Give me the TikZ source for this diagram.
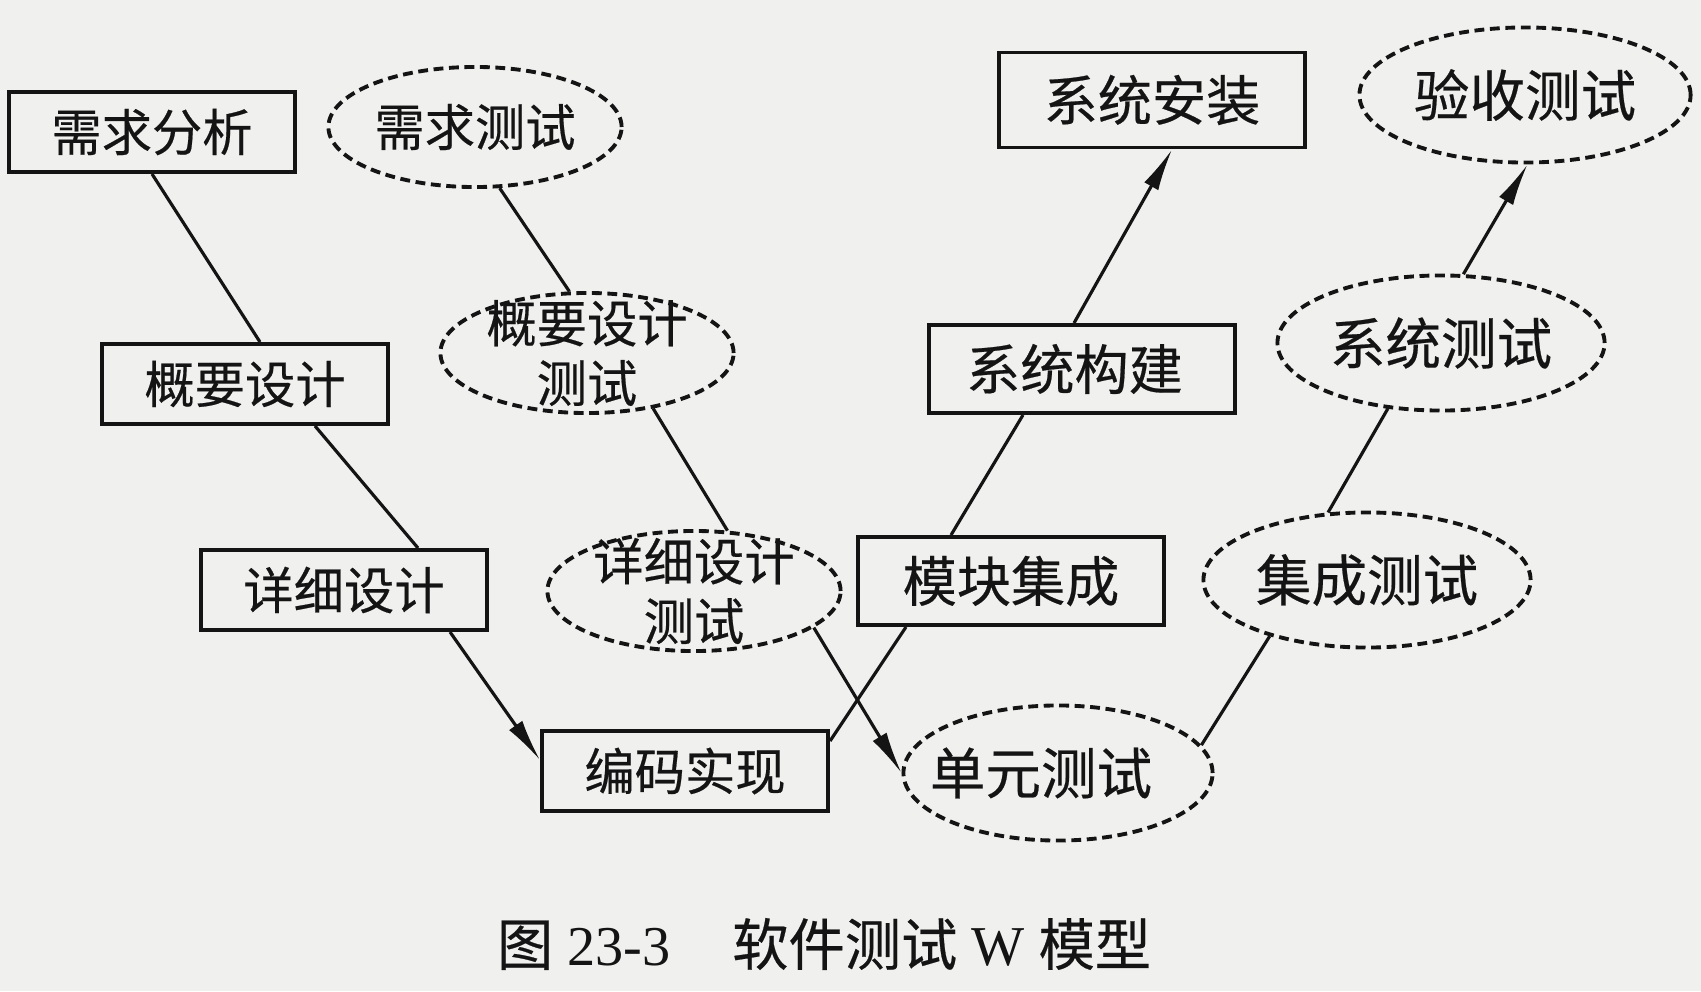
\documentclass[tikz,border=0pt]{standalone}
\usepackage{fontspec}
\setmainfont{Liberation Serif}
\newfontfamily\cjk[FakeBold=0.4]{Noto Sans CJK SC}
\usetikzlibrary{shapes.geometric, arrows.meta, calc}
\definecolor{paper}{RGB}{240,240,238}
\definecolor{ink}{RGB}{20,20,20}
\tikzset{
  devbox/.style={rectangle, draw=ink, line width=1.1pt, text=ink, inner sep=0pt,
    minimum width=2.86cm, minimum height=0.8cm, font=\cjk\fontsize{14.3}{17}\selectfont},
  widebox/.style={devbox, minimum width=3.05cm, minimum height=0.88cm,
    font=\cjk\fontsize{15.4}{18}\selectfont},
  testell/.style={ellipse, draw=ink, line width=1.1pt, dash pattern=on 2.8pt off 1.6pt,
    text=ink, inner sep=0pt, minimum width=2.93cm, minimum height=1.2cm,
    font=\cjk\fontsize{14.3}{17}\selectfont},
  wideell/.style={testell, minimum width=3.27cm, minimum height=1.35cm,
    font=\cjk\fontsize{15.8}{18}\selectfont},
  lbltext/.style={font=\cjk\fontsize{14.3}{17}\selectfont, text=ink, align=center},
  twoline/.style={label={[lbltext]center:#1}},
  link/.style={line width=0.9pt, draw=ink},
  arrow/.style={link, -{Latex[length=12pt, width=4.6pt]}},
}
\begin{document}
\begin{tikzpicture}[x=0.01cm, y=-0.01cm]
  \fill[paper] (0,0) rectangle (1701,991);
  \useasboundingbox (0,0) rectangle (1701,991);
  % development side
  \node[devbox] (xqfx) at (152,132) {需求分析};
  \node[devbox] (gysj) at (245,384) {概要设计};
  \node[devbox] (xxsj) at (344,590) {详细设计};
  \node[devbox] (bmsx) at (685,771) {编码实现};
  \node[widebox] (mkjc) at (1011,581) {模块集成};
  \node[widebox] (xtgj) at (1082,369) {\hspace*{-0.15cm}系统构建};
  \node[widebox, minimum height=0.95cm] (xtaz) at (1152,100) {系统安装};
  % test side
  \node[testell] (xqcs) at (475,127) {需求测试};
  \node[testell, twoline={概要设计\\测试}] (gycs) at (587,353) {};
  \node[testell, twoline={详细设计\\测试}] (xxcs) at (694,591) {};
  \node[wideell, minimum width=3.09cm, label={[lbltext, font=\cjk\fontsize{15.8}{18}\selectfont,
    xshift=-0.17cm]center:单元测试}] (dycs) at (1058,773) {};
  \node[wideell] (jccs) at (1367,580) {集成测试};
  \node[wideell] (xtcs) at (1441,343) {系统测试};
  \node[wideell, minimum width=3.31cm] (yscs) at (1525,95) {验收测试};
  % connectors
  \draw[link] (xqfx.south) -- ($(gysj.north)+(15,0)$);
  \draw[link] ($(gysj.south)+(70,0)$) -- ($(xxsj.north)+(74,0)$);
  \draw[arrow] ($(xxsj.south)+(106,0)$) -- ($(bmsx.west)+(0,-11)$);
  \draw[link] ($(bmsx.east)+(0,-30)$) -- ($(mkjc.south)+(-105,0)$);
  \draw[link] ($(mkjc.north)+(-60,0)$) -- ($(xtgj.south)+(-59,0)$);
  \draw[arrow] ($(xtgj.north)+(-8,0)$) -- ($(xtaz.south)+(20,0)$);
  \draw[link] (xqcs.-68) -- (gycs.106);
  \draw[link] (gycs.-40) -- (xxcs.61);
  \draw[arrow] (xxcs.-17) -- (dycs.west);
  \draw[link] (dycs.11) -- (jccs.-150);
  \draw[link] (jccs.120) -- (xtcs.-129);
  \draw[arrow] (xtcs.72) -- (yscs.-88);
  % caption
  \node[font=\fontsize{16}{19}\selectfont, text=ink] (caption) at (824,944)
    {{\cjk 图} 23-3\hspace{1.1em}{\cjk 软件测试} W {\cjk 模型}};
\end{tikzpicture}
\end{document}
